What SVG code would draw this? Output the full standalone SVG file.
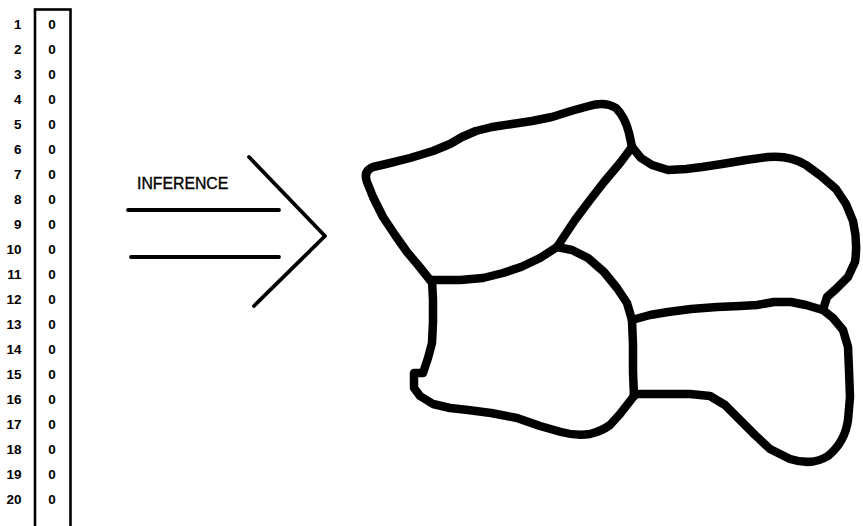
<svg xmlns="http://www.w3.org/2000/svg" width="863" height="526" viewBox="0 0 863 526">
  <style>
    .num { font-family: "Liberation Sans", Arial, sans-serif; font-size: 13.5px; font-weight: bold; fill: #000; }
    .idx { text-anchor: end; }
    .val { text-anchor: middle; }
    .label { font-family: "Liberation Sans", Arial, sans-serif; font-size: 15.8px; fill: #000; stroke: #000; stroke-width: 0.35; }
    .col { fill: none; stroke: #000; stroke-width: 2.6; }
    .arrow { fill: none; stroke: #000; stroke-width: 3.8; stroke-linecap: round; stroke-linejoin: round; }
    .edge { fill: none; stroke: #000; stroke-width: 8.5; stroke-linecap: round; stroke-linejoin: round; }
  </style>
  <rect width="863" height="526" fill="#fff"/>

  <!-- register column: 20 numbered cells, all zero -->
  <g id="register">
    <rect class="col" x="35" y="9.5" width="35.5" height="530"/>
    <g class="num idx">
      <text x="21.5" y="29">1</text>
      <text x="21.5" y="54">2</text>
      <text x="21.5" y="79">3</text>
      <text x="21.5" y="104">4</text>
      <text x="21.5" y="129">5</text>
      <text x="21.5" y="154">6</text>
      <text x="21.5" y="179">7</text>
      <text x="21.5" y="204">8</text>
      <text x="21.5" y="229">9</text>
      <text x="21.5" y="254">10</text>
      <text x="21.5" y="279">11</text>
      <text x="21.5" y="304">12</text>
      <text x="21.5" y="329">13</text>
      <text x="21.5" y="354">14</text>
      <text x="21.5" y="379">15</text>
      <text x="21.5" y="404">16</text>
      <text x="21.5" y="429">17</text>
      <text x="21.5" y="454">18</text>
      <text x="21.5" y="479">19</text>
      <text x="21.5" y="504">20</text>
    </g>
    <g class="num val">
      <text x="52" y="29">0</text>
      <text x="52" y="54">0</text>
      <text x="52" y="79">0</text>
      <text x="52" y="104">0</text>
      <text x="52" y="129">0</text>
      <text x="52" y="154">0</text>
      <text x="52" y="179">0</text>
      <text x="52" y="204">0</text>
      <text x="52" y="229">0</text>
      <text x="52" y="254">0</text>
      <text x="52" y="279">0</text>
      <text x="52" y="304">0</text>
      <text x="52" y="329">0</text>
      <text x="52" y="354">0</text>
      <text x="52" y="379">0</text>
      <text x="52" y="404">0</text>
      <text x="52" y="429">0</text>
      <text x="52" y="454">0</text>
      <text x="52" y="479">0</text>
      <text x="52" y="504">0</text>
    </g>
  </g>

  <!-- double-shafted inference arrow -->
  <g id="inference-arrow">
    <text class="label" x="137" y="188.5">INFERENCE</text>
    <path class="arrow" d="M128,210 L279,210"/>
    <path class="arrow" d="M131,257 L279,257"/>
    <path class="arrow" d="M249,157 L325,236 L254,306"/>
  </g>

  <!-- inferred region map: four cells sharing borders -->
  <g id="regions">
    <!-- top-left cell, outer border -->
    <path class="edge" d="M430,280 L418,265 L407,252 L395,235 L383,217 L373,197 L367,182 Q363,171 373,167 L386,164 L410,158 L433,151 L450,144 L462,137 L476,131 L492,127 L512,124 L532,121 L552,117 L571,111 L589,106 Q605,101 616,108 Q625,117 629,133 L632,147"/>
    <!-- shared diagonal -->
    <path class="edge" d="M632,147 L620,163 L604,182 L590,200 L575,220 L557,247"/>
    <!-- shared border top-left / middle -->
    <path class="edge" d="M557,247 L540,258 L521,267 L503,273 L483,278 L460,280 L437,280 L430,280"/>
    <!-- top-right cell, outer border -->
    <path class="edge" d="M632,147 L641,158 L652,165 L668,170 L686,169 L702,167 L722,164 L746,160 L768,157 Q790,155 806,165 L821,176 L836,189 L846,204 L853,221 Q858,242 855,262 L848,277 L836,289 L827,297 L823,310"/>
    <!-- shared border middle / top-right -->
    <path class="edge" d="M557,247 L572,250 L588,258 L604,272 L617,288 L627,303 L632,320"/>
    <!-- middle cell, outer border -->
    <path class="edge" d="M432,280 L433,300 L433,322 L432,343 L428,358 L423,373 L414,373 L414,388 L420,396 L433,404 L450,408 L468,410 L491,413 L517,418 L540,426 L561,432 Q576,436 590,434 Q602,431 610,425 L620,414 L634,396"/>
    <!-- shared border middle / bottom-right -->
    <path class="edge" d="M632,320 L633,345 L633,372 L634,396"/>
    <!-- shared border top-right / bottom-right -->
    <path class="edge" d="M632,320 L650,315 L668,312 L691,309 L717,307 L740,306 L757,305 L774,302 L791,302 L806,305 L816,308 L823,310"/>
    <!-- bottom-right cell, outer border -->
    <path class="edge" d="M823,310 L833,318 L843,330 L848,347 L849,370 L850,397 L848,420 Q845,442 828,456 Q812,466 790,459 L770,449 L755,435 L740,420 L725,405 L710,396 L690,394 L660,394 L634,394"/>
  </g>
</svg>
